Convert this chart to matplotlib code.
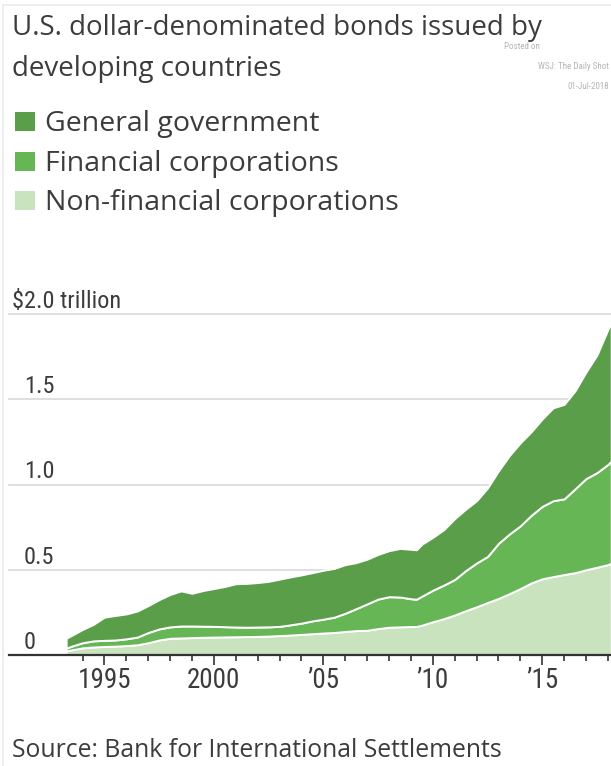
import numpy as np
import matplotlib.pyplot as plt
from matplotlib import transforms
from matplotlib.lines import Line2D
from matplotlib.patches import Rectangle

# Quarterly-ish readings, $ trillion
years = [1993.25, 1993.5, 1994.0, 1994.5, 1995.0, 1995.5, 1996.0, 1996.5, 1997.0, 1997.5,
         1998.0, 1998.5, 1999.0, 1999.5, 2000.0, 2000.5, 2001.0, 2001.5, 2002.0, 2002.5,
         2003.0, 2003.5, 2004.0, 2004.5, 2005.0, 2005.5, 2006.0, 2006.5, 2007.0, 2007.5,
         2008.0, 2008.5, 2009.0, 2009.25, 2009.5, 2010.0, 2010.5, 2011.0, 2011.5, 2012.0,
         2012.5, 2013.0, 2013.5, 2014.0, 2014.5, 2015.0, 2015.5, 2016.0, 2016.5, 2017.0,
         2017.5, 2018.0, 2018.15]
non_financial = [0.025, 0.030, 0.042, 0.047, 0.050, 0.052, 0.055, 0.060, 0.072, 0.088,
                 0.098, 0.100, 0.102, 0.104, 0.105, 0.106, 0.107, 0.108, 0.109, 0.111,
                 0.114, 0.117, 0.121, 0.125, 0.129, 0.132, 0.138, 0.143, 0.145, 0.155,
                 0.163, 0.165, 0.167, 0.167, 0.175, 0.195, 0.213, 0.235, 0.260, 0.283,
                 0.308, 0.332, 0.360, 0.390, 0.423, 0.447, 0.460, 0.472, 0.483, 0.500,
                 0.515, 0.530, 0.539]
financial = [0.015, 0.022, 0.030, 0.036, 0.036, 0.036, 0.040, 0.045, 0.060, 0.065,
             0.067, 0.070, 0.068, 0.065, 0.063, 0.060, 0.057, 0.055, 0.055, 0.054,
             0.054, 0.060, 0.066, 0.075, 0.081, 0.090, 0.107, 0.129, 0.155, 0.173,
             0.179, 0.175, 0.163, 0.160, 0.170, 0.185, 0.197, 0.208, 0.235, 0.257,
             0.270, 0.323, 0.350, 0.368, 0.397, 0.425, 0.445, 0.444, 0.492, 0.535,
             0.555, 0.588, 0.598]
government = [0.058, 0.063, 0.078, 0.097, 0.136, 0.144, 0.146, 0.153, 0.158, 0.172,
              0.190, 0.206, 0.192, 0.209, 0.222, 0.236, 0.254, 0.257, 0.261, 0.267,
              0.277, 0.281, 0.283, 0.283, 0.287, 0.286, 0.285, 0.270, 0.262, 0.262,
              0.270, 0.285, 0.290, 0.290, 0.305, 0.310, 0.325, 0.357, 0.360, 0.365,
              0.402, 0.425, 0.460, 0.487, 0.490, 0.513, 0.545, 0.554, 0.575, 0.625,
              0.690, 0.792, 0.813]

series_names = ["General government", "Financial corporations", "Non-financial corporations"]
colors = ["#5a9e49", "#67b655", "#c8e3bd"]

y_ticks = [0, 0.5, 1.0, 1.5, 2.0]
y_labels = ["0", "0.5", "1.0", "1.5", "$2.0 trillion"]
x_major = [1995, 2000, 2005, 2010, 2015]
x_labels = ["1995", "2000", "\u201905", "\u201910", "\u201915"]

TEXT_FONT = ["Open Sans", "DejaVu Sans"]
NUM_FONT = ["Roboto Condensed", "DejaVu Sans"]
TXT = "#3c3c3c"
W, H = 611, 766

plt.rcParams["font.family"] = NUM_FONT

fig = plt.figure(figsize=(W / 100, H / 100), dpi=100)

def fx(px):
    return px / W

def fy(py):
    return 1 - py / H

# faint frame on the left and top
fig.add_artist(Line2D([fx(3), fx(3)], [0, fy(5)], color="#ebebeb", lw=1.2))
fig.add_artist(Line2D([fx(3), 1], [fy(5), fy(5)], color="#ebebeb", lw=1.2))

# title and stamp
fig.text(fx(12), fy(35), "U.S. dollar-denominated bonds issued by", fontsize=20,
         family=TEXT_FONT, color=TXT, va="baseline", ha="left")
fig.text(fx(12), fy(76), "developing countries", fontsize=20,
         family=TEXT_FONT, color=TXT, va="baseline", ha="left")
fig.text(fx(504), fy(49), "Posted on", fontsize=6.5, color="#b5b5b5", va="baseline")
fig.text(fx(609), fy(69), "WSJ: The Daily Shot", fontsize=6.5, color="#b5b5b5",
         va="baseline", ha="right")
fig.text(fx(609), fy(89), "01-Jul-2018", fontsize=6.5, color="#b5b5b5",
         va="baseline", ha="right")

# legend
for i, (name, c) in enumerate(zip(series_names, colors)):
    base = 131 + i * 39.5
    fig.add_artist(Rectangle((fx(15), fy(base)), 20 / W, 19 / H,
                             transform=fig.transFigure, facecolor=c, edgecolor="none"))
    fig.text(fx(45), fy(base), name, fontsize=20.5, family=TEXT_FONT, color=TXT,
             va="baseline", ha="left")

# source
fig.text(fx(12), fy(757), "Source: Bank for International Settlements", fontsize=17.8,
         family=TEXT_FONT, color=TXT, va="baseline", ha="left")

# chart area
ax = fig.add_axes([fx(9), fy(655), (W - 9) / W, (655 - 314) / H])
ax.set_xlim(1990.64, 2018.14)
ax.set_ylim(0, 2.0)

for v in y_ticks[1:]:
    ax.axhline(v, color="#dcdcdc", lw=1.3, zorder=0, clip_on=False)

ax.stackplot(years, non_financial, financial, government,
             colors=colors[::-1], edgecolor="white", linewidth=1.4, zorder=2)

for s in ["top", "right", "left"]:
    ax.spines[s].set_visible(False)
ax.spines["bottom"].set_color("#333333")
ax.spines["bottom"].set_linewidth(1.6)
ax.spines["bottom"].set_zorder(3)

ax.set_yticks([])
trans = transforms.blended_transform_factory(fig.transFigure, ax.transData)
off = transforms.offset_copy(trans, fig=fig, x=0, y=6, units="dots")
for v, lab in zip(y_ticks, y_labels):
    xpos = fx(12) if lab.startswith("$") else fx(24)
    ax.text(xpos, v, lab, transform=off, fontsize=17.5, color=TXT,
            va="baseline", ha="left")

ax.set_xticks(x_major)
ax.set_xticklabels(x_labels)
ax.set_xticks(np.arange(1994, 2019), minor=True)
ax.tick_params(axis="x", which="major", length=7.5, width=1.2, color="#333333",
               labelsize=19.5, labelcolor=TXT, pad=1)
ax.tick_params(axis="x", which="minor", length=4.5, width=1.2, color="#333333")
ax.set_facecolor("none")

fig.savefig("out.png", dpi=100)
